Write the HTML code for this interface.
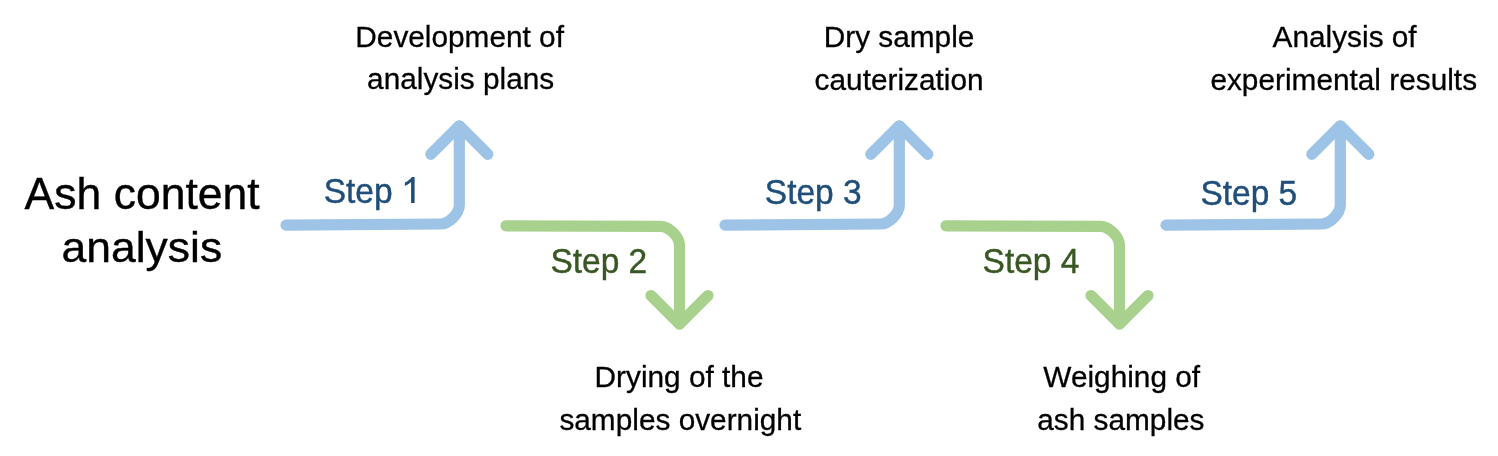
<!DOCTYPE html>
<html><head><meta charset="utf-8">
<style>
html,body{margin:0;padding:0;background:#fff;width:1498px;height:456px;overflow:hidden}
svg{position:absolute;left:0;top:0;display:block;will-change:transform}
text{font-family:"Liberation Sans",sans-serif}
.t{font-size:44.5px;fill:#000;stroke:#000;stroke-width:0.4}
.l{font-size:29.8px;fill:#000;stroke:#000;stroke-width:0.3}
.sb{font-size:33.5px;fill:#1F4E79;stroke:#1F4E79;stroke-width:0.4}
.sg{font-size:33.5px;fill:#385723;stroke:#385723;stroke-width:0.4}
.b{fill:none;stroke:#9DC3E6;stroke-width:11.2;stroke-linecap:round;stroke-linejoin:round}
.g{fill:none;stroke:#A9D18E;stroke-width:11.2;stroke-linecap:round;stroke-linejoin:round}
</style></head>
<body>
<svg width="1498" height="456" viewBox="0 0 1498 456">
<!-- Step 1 -->
<path class="b" d="M286 225.1 L440.30 224.0 C448.85 224.0 459.30 213.55 459.3 205.00 V126"/>
<path class="b" d="M430.8 154.3 L459.3 125.8 L487.8 154.3"/>
<!-- Step 2 -->
<path class="g" d="M506 225.8 L660.50 226.3 C669.05 226.3 679.50 236.75 679.5 245.30 V324"/>
<path class="g" d="M651 295.5 L679.5 324 L708 295.5"/>
<!-- Step 3 -->
<path class="b" d="M725 225.1 L880.30 224.0 C888.85 224.0 899.30 213.55 899.3 205.00 V126"/>
<path class="b" d="M870.8 154.3 L899.3 125.8 L927.8 154.3"/>
<!-- Step 4 -->
<path class="g" d="M946 225.8 L1100.50 226.3 C1109.05 226.3 1119.50 236.75 1119.5 245.30 V324"/>
<path class="g" d="M1091 295.5 L1119.5 324 L1148 295.5"/>
<!-- Step 5 -->
<path class="b" d="M1166 225.1 L1321.30 224.0 C1329.85 224.0 1340.30 213.55 1340.3 205.00 V126"/>
<path class="b" d="M1311.8 154.3 L1340.3 125.8 L1368.8 154.3"/>

<text class="t" transform="translate(24.6 209.1) scale(1 1.0)">Ash content</text>
<text class="t" transform="translate(61.4 262.3) scale(1 0.97)">analysis</text>
<text class="l" transform="translate(355.3 46.9) scale(1 1.01)">Development of</text>
<text class="l" transform="translate(367.1 89.3) scale(1 0.98)">analysis plans</text>
<text class="l" transform="translate(823.7 46.9) scale(1 1.01)">Dry sample</text>
<text class="l" transform="translate(814.6 89.5) scale(1 0.98)">cauterization</text>
<text class="l" transform="translate(1272.6 47.2) scale(1 1.01)">Analysis of</text>
<text class="l" transform="translate(1210.4 90.0) scale(1 0.98)">experimental results</text>
<text class="l" transform="translate(594.6 387.3) scale(1 1.01)">Drying of the</text>
<text class="l" transform="translate(559.4 429.5) scale(1 0.98)">samples overnight</text>
<text class="l" transform="translate(1043.3 386.9) scale(1 1.01)">Weighing of</text>
<text class="l" transform="translate(1037.2 429.6) scale(1 0.98)">ash samples</text>
<text class="sb" transform="translate(323.7 203.0) scale(1 1.06)">Step</text>
<path fill="#1F4E79" d="M414.6 176.9 V203 H411.1 V182.0 C409.3 183.6 407.2 184.9 404.9 185.9 V182.5 C408.0 181.0 410.3 179.2 411.9 176.9 Z"/>
<text class="sg" transform="translate(550.4 272.9) scale(1 1.04)">Step 2</text>
<text class="sb" transform="translate(764.8 203.6) scale(1 1.06)">Step 3</text>
<text class="sg" transform="translate(982.6 272.9) scale(1 1.04)">Step 4</text>
<text class="sb" transform="translate(1200.4 204.5) scale(1 1.06)">Step 5</text>
</svg>
</body></html>
